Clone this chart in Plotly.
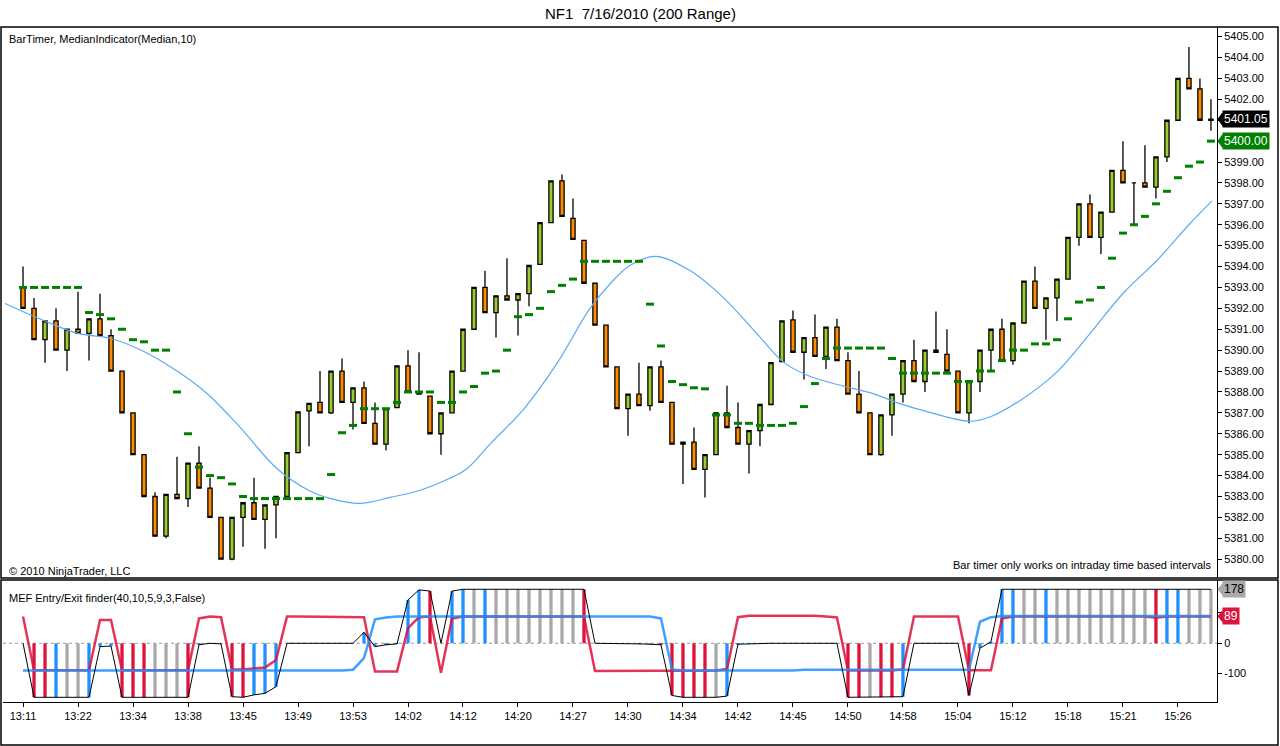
import plotly.graph_objects as go

W, H = 1280, 746

# price bars (range bars), index 0..108
opens = [5393.0, 5392.0, 5390.5, 5391.4, 5390.0, 5391.0, 5390.8, 5391.5, 5390.7, 5389.0,
         5387.0, 5385.0, 5383.0, 5381.1, 5383.1, 5382.9, 5384.6, 5383.4, 5382.0, 5380.0,
         5382.0, 5382.7, 5381.9, 5382.6, 5383.0, 5385.1, 5387.1, 5387.5, 5387.0, 5389.0,
         5387.5, 5388.2, 5386.5, 5385.5, 5387.25, 5389.25, 5388.0, 5387.8, 5386.0, 5387.0,
         5389.0, 5391.0, 5393.0, 5391.8, 5392.6, 5392.4, 5392.7, 5394.1, 5396.1, 5398.1,
         5396.3, 5395.25, 5393.2, 5391.2, 5389.2, 5387.2, 5387.9, 5387.35, 5389.2, 5387.5,
         5385.6, 5385.6, 5384.3, 5385.0, 5387.0, 5386.3, 5385.5, 5386.15, 5387.4, 5389.45,
         5391.45, 5389.9, 5390.6, 5389.7, 5391.1, 5389.5, 5387.9, 5387.0, 5385.0, 5386.9,
         5387.9, 5389.5, 5388.5, 5390.0, 5389.8, 5389.0, 5387.0, 5388.5, 5390.0, 5391.0,
         5389.5, 5391.3, 5393.3, 5392.0, 5392.5, 5393.4, 5395.4, 5397.0, 5395.4, 5396.6,
         5398.6, 5398.0, 5398.0, 5397.8, 5399.25, 5401.0, 5403.0, 5402.5, 5401.0]
closes = [5392.0, 5390.5, 5391.4, 5390.0, 5391.0, 5390.8, 5391.5, 5390.7, 5389.0, 5387.0,
          5385.0, 5383.0, 5381.1, 5383.1, 5382.9, 5384.6, 5383.4, 5382.0, 5380.0, 5382.0,
          5382.7, 5381.9, 5382.6, 5383.0, 5385.1, 5387.05, 5387.45, 5387.0, 5389.0, 5387.5,
          5388.2, 5386.5, 5385.5, 5387.2, 5389.25, 5388.0, 5387.9, 5386.0, 5387.0, 5389.0,
          5391.0, 5393.0, 5391.8, 5392.6, 5392.4, 5392.7, 5394.05, 5396.1, 5398.1, 5396.4,
          5395.3, 5393.2, 5391.2, 5389.2, 5387.2, 5387.9, 5387.35, 5389.2, 5387.5, 5385.5,
          5385.5, 5384.3, 5385.0, 5387.0, 5386.3, 5385.5, 5386.15, 5387.4, 5389.4, 5391.4,
          5389.9, 5390.6, 5389.7, 5391.1, 5389.5, 5387.9, 5387.0, 5385.0, 5386.9, 5387.9,
          5389.5, 5388.5, 5390.0, 5389.9, 5389.0, 5387.0, 5388.5, 5390.0, 5391.0, 5389.5,
          5391.3, 5393.3, 5392.0, 5392.5, 5393.4, 5395.4, 5397.0, 5395.4, 5396.6, 5398.6,
          5398.0, 5398.0, 5397.8, 5399.25, 5401.0, 5403.0, 5402.5, 5401.0, 5401.05]
highs = [5394.0, 5392.5, 5391.4, 5392.0, 5391.0, 5392.8, 5391.5, 5392.7, 5391.0, 5389.0,
         5387.0, 5385.0, 5383.2, 5383.1, 5384.9, 5384.6, 5385.4, 5383.9, 5382.0, 5382.0,
         5382.7, 5383.9, 5382.6, 5383.0, 5385.1, 5387.05, 5387.45, 5389.0, 5389.0, 5389.6,
         5388.2, 5388.5, 5387.5, 5387.2, 5389.25, 5390.0, 5389.9, 5387.8, 5387.0, 5389.0,
         5391.0, 5393.0, 5393.8, 5392.6, 5394.4, 5392.7, 5394.05, 5396.1, 5398.1, 5398.4,
         5397.25, 5395.25, 5393.2, 5391.2, 5389.2, 5387.9, 5389.4, 5389.2, 5389.5, 5387.5,
         5385.6, 5386.3, 5385.0, 5387.0, 5388.3, 5387.5, 5386.15, 5387.4, 5389.4, 5391.4,
         5391.9, 5390.6, 5391.7, 5391.1, 5391.5, 5389.9, 5389.0, 5387.0, 5386.9, 5387.9,
         5389.5, 5390.5, 5390.0, 5391.85, 5391.0, 5389.0, 5388.5, 5390.0, 5391.0, 5391.5,
         5391.3, 5393.3, 5394.0, 5392.5, 5393.4, 5395.4, 5397.0, 5397.45, 5396.6, 5398.6,
         5400.0, 5398.0, 5399.8, 5399.25, 5401.0, 5403.0, 5404.5, 5403.0, 5402.0]
lows = [5392.0, 5390.5, 5389.4, 5390.0, 5389.0, 5390.8, 5389.5, 5390.7, 5389.0, 5387.0,
        5385.0, 5383.0, 5381.1, 5381.0, 5382.9, 5382.5, 5383.4, 5382.0, 5380.0, 5379.95,
        5380.6, 5381.9, 5380.5, 5381.0, 5383.0, 5385.1, 5385.4, 5387.0, 5386.95, 5387.5,
        5386.2, 5386.5, 5385.5, 5385.2, 5387.25, 5388.0, 5387.9, 5386.0, 5385.0, 5387.0,
        5389.0, 5391.0, 5391.8, 5390.6, 5392.4, 5390.7, 5392.1, 5394.1, 5396.1, 5396.4,
        5395.3, 5393.2, 5391.2, 5389.2, 5387.2, 5385.9, 5387.35, 5387.1, 5387.5, 5385.5,
        5383.6, 5384.3, 5382.95, 5385.0, 5386.3, 5385.5, 5384.1, 5385.4, 5387.4, 5389.45,
        5389.9, 5388.6, 5389.7, 5389.1, 5389.5, 5387.9, 5387.0, 5385.0, 5384.95, 5385.9,
        5387.5, 5388.5, 5388.0, 5389.9, 5389.0, 5387.0, 5386.5, 5388.0, 5389.05, 5389.5,
        5389.3, 5391.3, 5392.0, 5390.5, 5391.4, 5393.4, 5395.0, 5395.4, 5394.6, 5396.6,
        5398.0, 5396.0, 5397.8, 5397.25, 5399.0, 5401.0, 5402.5, 5401.0, 5400.5]

# MedianIndicator(Median,10) dashes, one per bar
medians = [5393.0, 5393.0, 5393.0, 5393.0, 5393.0, 5393.0, 5391.8, 5391.7, 5391.5, 5391.0,
           5390.5, 5390.4, 5390.0, 5390.0, 5388.0, 5386.0, 5384.4, 5384.0, 5383.9, 5383.6,
           5383.0, 5382.9, 5382.9, 5382.9, 5382.9, 5382.9, 5382.9, 5382.9, 5384.05, 5386.05,
           5386.4, 5387.2, 5387.2, 5387.2, 5387.5, 5388.0, 5388.0, 5388.0, 5387.5, 5387.5,
           5388.0, 5388.26, 5388.9, 5389.0, 5390.0, 5391.6, 5391.7, 5392.0, 5392.8, 5393.1,
           5393.4, 5394.25, 5394.25, 5394.25, 5394.25, 5394.25, 5394.25, 5392.2, 5390.2, 5388.5,
           5388.35, 5388.2, 5388.15, 5386.9, 5386.9, 5386.5, 5386.5, 5386.4, 5386.4, 5386.4,
           5386.5, 5387.3, 5388.4, 5389.6, 5390.1, 5390.1, 5390.1, 5390.1, 5390.1, 5389.6,
           5388.9, 5388.9, 5388.9, 5388.9, 5388.9, 5388.5, 5388.5, 5389.0, 5389.0, 5389.5,
           5390.0, 5390.0, 5390.3, 5390.3, 5390.5, 5391.5, 5392.3, 5392.4, 5393.0, 5394.4,
           5395.6, 5396.0, 5396.4, 5397.0, 5397.6, 5398.25, 5398.8, 5399.0, 5400.0]

# smooth blue average, read at bar positions
ma_x = [-1.64, 1.82, 5.0, 7.9, 10.9, 14.0, 16.7, 19.7, 23.1, 26.1, 27.9, 30.6, 33.4, 36.1,
        38.8, 40.3, 42.5, 45.5, 48.5, 51.5, 53.4, 55.2, 57.5, 60.6, 63.6, 66.7, 69.1, 71.3,
        74.3, 77.3, 79.7, 81.8, 86.1, 87.9, 90.9, 94.0, 97.0, 100.0, 103.1, 106.1, 108.1]
ma_y = [5392.23, 5391.43, 5390.80, 5390.57, 5389.96, 5389.0, 5387.94, 5386.33, 5384.33,
        5383.26, 5382.91, 5382.67, 5382.96, 5383.3, 5383.87, 5384.3, 5385.53, 5387.17,
        5389.33, 5391.96, 5393.19, 5394.06, 5394.49, 5393.82, 5392.55, 5390.8, 5389.44,
        5388.8, 5388.32, 5387.92, 5387.44, 5387.12, 5386.6, 5386.8, 5387.68, 5388.96,
        5390.79, 5392.71, 5394.3, 5396.06, 5397.14]

# MEF Entry/Exit finder
mef_signal = [0, -178, -178, -178, -178, -178, -178, -11, -9, -178,
              -178, -178, -178, -178, -178, -178, -5, 0, -2, -176,
              -178, -170, -165, -143, 0, 0, 0, 0, 0, 0,
              0, 36, -11, -5, -2, 143, 176, 172, 0, 172,
              178, 178, 178, 178, 178, 178, 178, 178, 178, 178,
              178, 178, 0, 0, 0, 0, -2, -3, -5, -172,
              -178, -178, -178, -178, -174, -3, -2, 0, 0, 0,
              0, 0, 0, 0, 0, -178, -178, -178, -178, -178,
              -176, 0, 0, 0, 0, 0, -172, -16, 5, 178,
              178, 178, 178, 178, 178, 178, 178, 178, 178, 178,
              178, 178, 178, 178, 178, 178, 178, 178, 178]
mef_state = ['g', 'r', 'r', 'b', 'g', 'g', 'b', 'b', 'b', 'r',
             'r', 'r', 'g', 'g', 'g', 'r', 'b', 'g', 'b', 'r',
             'r', 'b', 'b', 'b', 'g', 'g', 'g', 'g', 'g', 'g',
             'g', 'b', 'b', 'b', 'b', 'b', 'b', 'r', 'g', 'b',
             'b', 'g', 'b', 'g', 'g', 'g', 'g', 'g', 'g', 'g',
             'g', 'r', 'g', 'g', 'g', 'g', 'r', 'g', 'r', 'r',
             'r', 'r', 'r', 'g', 'b', 'b', 'b', 'g', 'g', 'g',
             'g', 'g', 'g', 'g', 'g', 'r', 'r', 'g', 'r', 'r',
             'b', 'g', 'g', 'g', 'g', 'g', 'r', 'b', 'b', 'b',
             'b', 'g', 'g', 'b', 'g', 'g', 'g', 'g', 'g', 'g',
             'g', 'g', 'g', 'r', 'b', 'b', 'g', 'g', 'g']
mef_red = [88, -89, -89, -89, -89, -89, -89, 77, 77, -89,
           -89, -89, -89, -89, -89, -89, 82, 88, 86, -86,
           -86, -82, -80, -55, 88, 88, 88, 88, 88, 88,
           88, 86, -93, -93, -93, 50, 86, 88, -97, 82,
           88, 88, 88, 88, 88, 88, 88, 88, 88, 88,
           88, 88, -91, -91, -91, -91, -91, -91, -91, -90,
           -90, -90, -90, -90, -85, 86, 91, 91, 91, 91,
           91, 91, 91, 88, 85, -90, -90, -90, -90, -90,
           -86, 88, 88, 88, 88, 88, -89, -89, -89, 82,
           88, 88, 88, 88, 88, 88, 88, 88, 88, 88,
           88, 88, 88, 84, 88, 88, 88, 88, 88]
mef_blue = [-90, -90, -90, -90, -90, -90, -90, -90, -90, -90,
            -90, -90, -90, -90, -90, -90, -90, -90, -90, -90,
            -90, -90, -90, -90, -90, -90, -90, -90, -90, -90,
            -87, -49, 79, 85, 88, 88, 88, 88, 88, 88,
            88, 88, 88, 88, 88, 88, 88, 88, 88, 88,
            88, 88, 88, 88, 88, 88, 88, 88, 82, -86,
            -90, -90, -90, -90, -90, -90, -90, -90, -90, -90,
            -90, -87, -87, -87, -87, -87, -87, -87, -87, -87,
            -87, -87, -87, -87, -87, -87, -87, 71, 86, 90,
            90, 90, 90, 90, 90, 90, 90, 90, 90, 90,
            90, 90, 90, 90, 90, 90, 90, 90, 90]

time_ticks = ['13:11', '13:22', '13:34', '13:38', '13:45', '13:49', '13:53', '14:02',
              '14:12', '14:20', '14:27', '14:30', '14:34', '14:42', '14:45', '14:50',
              '14:58', '15:04', '15:12', '15:18', '15:21', '15:26']
price_ticks = list(range(5380, 5406))
mef_ticks = [-100, 0, 100]

bars = list(range(len(closes)))
state_colors = {'r': '#DC143C', 'b': '#1E90FF', 'g': '#A9A9A9'}
FONT = 'Liberation Sans, Arial, sans-serif'


def px(x):
    return x / W


def py_(y):
    return 1 - y / H


fig = go.Figure()

fig.add_trace(go.Candlestick(
    x=bars, open=opens, high=highs, low=lows, close=closes,
    increasing=dict(fillcolor='#9ACD32', line=dict(color='black', width=1.3)),
    decreasing=dict(fillcolor='#FF8C00', line=dict(color='black', width=1.3)),
    whiskerwidth=0, xaxis='x', yaxis='y', hoverinfo='skip'))

fig.add_trace(go.Scatter(x=ma_x, y=ma_y, mode='lines', line=dict(color='#5AAAF5', width=1.2, shape='spline'),
                         xaxis='x', yaxis='y', hoverinfo='skip'))

fig.add_trace(go.Scatter(x=bars, y=medians, mode='markers',
                         marker=dict(symbol='line-ew', size=5.7, line=dict(color='#008000', width=3)),
                         xaxis='x', yaxis='y', hoverinfo='skip'))

fig.add_trace(go.Scatter(x=bars, y=mef_red, mode='lines', line=dict(color='#DC143C', width=2.5),
                         opacity=0.85, xaxis='x', yaxis='y2', hoverinfo='skip'))
fig.add_trace(go.Scatter(x=bars, y=mef_blue, mode='lines', line=dict(color='#1E90FF', width=2.5),
                         opacity=0.85, xaxis='x', yaxis='y2', hoverinfo='skip'))
fig.add_trace(go.Bar(x=bars, y=mef_signal, width=0.3,
                     marker=dict(color=[state_colors[s] for s in mef_state], line=dict(width=0)),
                     xaxis='x', yaxis='y2', hoverinfo='skip'))
fig.add_trace(go.Scatter(x=bars, y=mef_signal, mode='lines', line=dict(color='black', width=1),
                         xaxis='x', yaxis='y2', hoverinfo='skip'))

axis_common = dict(showgrid=False, zeroline=False, showline=True, linecolor='black', linewidth=1,
                   ticks='outside', ticklen=4, tickcolor='black',
                   tickfont=dict(family=FONT, size=11, color='black'))

shapes = [
    dict(type='rect', xref='paper', yref='paper', x0=px(1), x1=px(1278), y0=py_(578), y1=py_(27),
         line=dict(color='black', width=1.5)),
    dict(type='rect', xref='paper', yref='paper', x0=px(1), x1=px(1278), y0=py_(745), y1=py_(580),
         line=dict(color='black', width=1.5)),
    dict(type='line', xref='paper', yref='y2', x0=px(3), x1=px(1217), y0=0, y1=0,
         line=dict(color='#999999', width=1, dash='dot'), layer='below'),
]

# value markers on the right axes (they hide the tick labels underneath)
markers = [
    ('5401.05', closes[-1], 'y', 'black', 'white'),
    ('5400.00', medians[-1], 'y', '#008000', 'white'),
    ('178', 178, 'y2', '#A9A9A9', 'black'),
    ('89', 89, 'y2', '#DC143C', 'white'),
]
hidden_price = [5400, 5401]
price_text = ['' if v in hidden_price else '{0:.2f}'.format(v) for v in price_ticks]
mef_text = ['-100', '0', '']

annotations = []
for txt, val, yref, bg, fg in markers:
    half = 0.3 if yref == 'y' else 18
    shapes.append(dict(type='path', xref='paper', yref=yref, fillcolor=bg, line=dict(color=bg, width=1),
                       path='M {0},{1} L {2},{3} L {2},{4} Z'.format(px(1218), val, px(1222.5),
                                                                    val + half, val - half)))
    annotations.append(dict(xref='paper', yref=yref, x=px(1222), y=val, xanchor='left', yanchor='middle',
                            text=txt, showarrow=False, bgcolor=bg, borderpad=1,
                            font=dict(family=FONT, size=12, color=fg)))

texts = [
    ('NF1  7/16/2010 (200 Range)', 640, 13, 'center', 15),
    ('BarTimer, MedianIndicator(Median,10)', 7, 39, 'left', 11),
    ('\u00a9 2010 NinjaTrader, LLC', 7, 571, 'left', 11),
    ('Bar timer only works on intraday time based intervals', 1213, 565, 'right', 11),
    ('MEF Entry/Exit finder(40,10,5,9,3,False)', 7, 598, 'left', 11),
]
for txt, x, y, anchor, size in texts:
    annotations.append(dict(xref='paper', yref='paper', x=px(x), y=py_(y), xanchor=anchor, yanchor='middle',
                            text=txt, showarrow=False, font=dict(family=FONT, size=size, color='black')))

fig.update_layout(
    width=W, height=H, margin=dict(l=0, r=0, t=0, b=0),
    paper_bgcolor='white', plot_bgcolor='white', showlegend=False, boxgap=0.45,
    hovermode=False, font=dict(family=FONT, size=11, color='black'),
    xaxis=dict(domain=[px(3), px(1217)], range=[-1.82, 108.55], anchor='y2',
               tickvals=bars[::5], ticktext=time_ticks, rangeslider=dict(visible=False), **axis_common),
    yaxis=dict(domain=[py_(578), py_(27)], range=[5379.10, 5405.46], side='right', anchor='x',
               tickvals=price_ticks, ticktext=price_text, **axis_common),
    yaxis2=dict(domain=[py_(702), py_(580)], range=[-193.5, 208.6], side='right', anchor='x',
                tickvals=mef_ticks, ticktext=mef_text, **axis_common),
    shapes=shapes, annotations=annotations,
)

fig.write_html("out.html", config={'displayModeBar': False},
               post_script="document.body.style.margin='0';document.body.style.padding='0';")
